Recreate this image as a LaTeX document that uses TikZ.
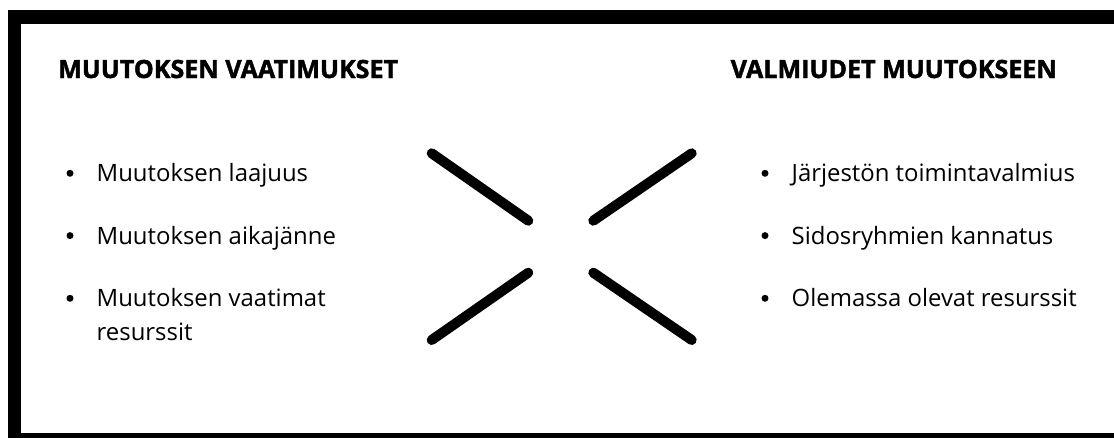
\documentclass[tikz,border=0pt]{standalone}
\usepackage{fontspec}
\setmainfont{Open Sans}
\newfontfamily\headfont{Open Sans}[BoldFeatures={FakeBold=1.6}]
\usepackage{tikz}
\usetikzlibrary{positioning}

\begin{document}
\begin{tikzpicture}[
      x=1pt,y=-1pt,
      frame/.style={draw=black,line width=13.5pt},
      bar/.style={line width=10pt,line cap=round},
      head/.style={anchor=base west,inner sep=0pt,font=\headfont\fontsize{25.1}{30}\selectfont\bfseries},
      entry/.style={anchor=base west,inner sep=0pt,align=left,
                    font=\fontsize{23.9}{33.3}\selectfont},
      dot/.style={circle,fill=black,inner sep=0pt,minimum size=7pt},
    ]
    \useasboundingbox (0,0) rectangle (1114,437);
    % frame, cut off right and below
    \draw[frame] (14.5,17) rectangle (1140,440);
    \node[head] (hleft)  at (58,78)  {MUUTOKSEN VAATIMUKSET};
    \node[head,anchor=base east] (hright) at (1057,78) {VALMIUDET MUUTOKSEEN};
    % left column
    \node[dot]   (b1) at (70,173.3)   {};
    \node[entry] (l1) at (96.5,181.7) {Muutoksen laajuus};
    \node[dot]   (b2) at (70,235.6)   {};
    \node[entry] (l2) at (96.5,244)   {Muutoksen aikajänne};
    \node[dot]   (b3) at (70,298.3)   {};
    \node[entry] (l3) at (96.5,340)   {Muutoksen vaatimat\\resurssit};
    % right column
    \node[dot]   (r1b) at (765,173.3)   {};
    \node[entry] (r1)  at (791.5,181.7) {Järjestön toimintavalmius};
    \node[dot]   (r2b) at (765,235.6)   {};
    \node[entry] (r2)  at (791.5,244)   {Sidosryhmien kannatus};
    \node[dot]   (r3b) at (765,298.3)   {};
    \node[entry] (r3)  at (791.5,306.7) {Olemassa olevat resurssit};
    % the cross between the columns
    \draw[bar] (431.7,153.3) -- (528.3,220.7);
    \draw[bar] (593.3,220.7) -- (691.7,153.3);
    \draw[bar] (431.7,340)   -- (528.3,272.7);
    \draw[bar] (593.3,272.7) -- (691.7,340);
  \end{tikzpicture}
\end{document}
